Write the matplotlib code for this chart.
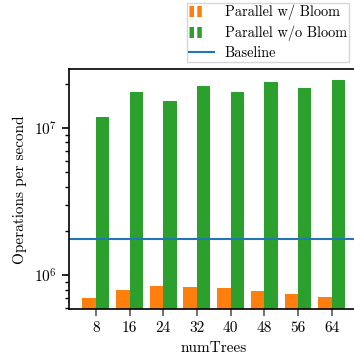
import matplotlib
matplotlib.use("Agg")
import matplotlib.pyplot as plt
import numpy as np
from matplotlib.lines import Line2D

num_trees = [8, 16, 24, 32, 40, 48, 56, 64]
with_bloom = [6.97e5, 7.9e5, 8.4e5, 8.3e5, 8.2e5, 7.8e5, 7.4e5, 7.08e5]
without_bloom = [1.19e7, 1.76e7, 1.53e7, 1.93e7, 1.76e7, 2.06e7, 1.87e7, 2.12e7]
baseline = 1.75e6

ORANGE = "#ff7f0e"
GREEN = "#2ca02c"
BLUE = "#1f77b4"

plt.rcParams.update({
    "font.family": "serif",
    "font.serif": ["cmr10"],
    "mathtext.fontset": "cm",
    "axes.formatter.use_mathtext": True,
    "font.size": 11,
})

fig = plt.figure(figsize=(3.54, 3.57), dpi=100)
ax = fig.add_axes([69 / 354, 0.1336, 289.6 / 354, 0.6724])

x = np.arange(len(num_trees))
w = 0.4
ax.bar(x - w / 2, with_bloom, width=w, color=ORANGE, bottom=1)
ax.bar(x + w / 2, without_bloom, width=w, color=GREEN, bottom=1)
ax.axhline(baseline, color=BLUE, lw=1.5)

ax.set_yscale("log")
ax.set_ylim(5.87e5, 2.51e7)
ax.set_xlim(-0.8, 7.8)
ax.set_xticks(x)
ax.set_xticklabels([str(n) for n in num_trees])
ax.set_xlabel("numTrees", labelpad=5)
ax.set_ylabel("Operations per second", labelpad=5)
ax.tick_params(axis="x", length=5, width=1.2, color="0.35")
ax.tick_params(axis="y", which="major", length=5, width=1.2)
ax.tick_params(axis="y", which="minor", length=3, width=1.0)
for s in ax.spines.values():
    s.set_linewidth(1.2)

# bar handles drawn as two short stripes
lw_px = 11
lw_pt = lw_px * 0.72
stripe = (0, (4.5 / lw_px, 3.3 / lw_px, 4.5 / lw_px, 30 / lw_px))
handles = [
    Line2D([0], [0], color=ORANGE, lw=lw_pt, linestyle=stripe),
    Line2D([0], [0], color=GREEN, lw=lw_pt, linestyle=stripe),
    Line2D([0], [0], color=BLUE, lw=1.5),
]
labels = ["Parallel w/ Bloom", "Parallel w/o Bloom", "Baseline"]
fig.legend(handles, labels, loc="lower left",
           bbox_to_anchor=(187 / 354, 1 - 61.7 / 357),
           frameon=True, fancybox=False, edgecolor="0.8",
           borderaxespad=0, borderpad=0.15, handlelength=1.75,
           handletextpad=0.75, fontsize=10.3, labelspacing=0.35)

fig.savefig("out.png", dpi=100)
